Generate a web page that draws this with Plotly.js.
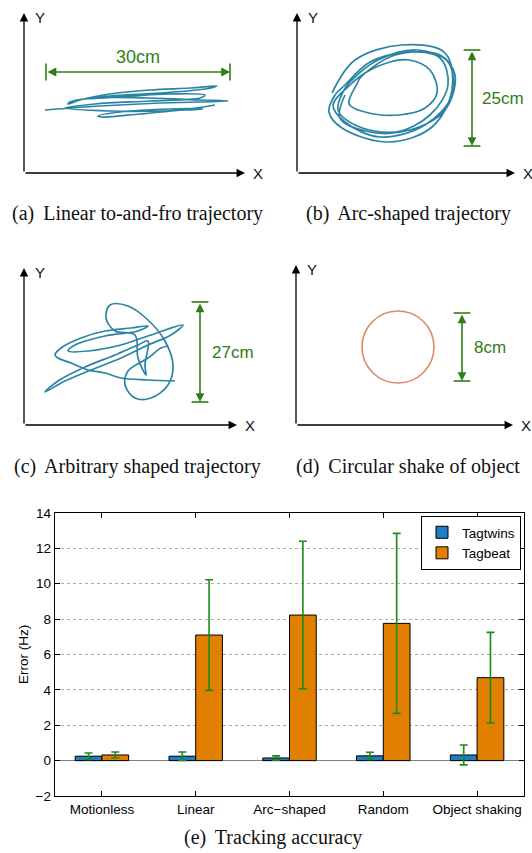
<!DOCTYPE html>
<html>
<head>
<meta charset="utf-8">
<script src="https://cdn.plot.ly/plotly-3.0.1.min.js"></script>
<style>html,body{margin:0;padding:0;background:#fff;}#chart{width:532px;height:853px;}</style>
</head>
<body>
<div id="chart"></div>
<script>
// ---------- Bar chart data (e) ----------
const categories = ['Motionless', 'Linear', 'Arc\u2212shaped', 'Random', 'Object shaking'];
const tagtwins = [0.25, 0.25, 0.15, 0.27, 0.32];
const tagtwinsErr = [0.18, 0.24, 0.12, 0.20, 0.56];
const tagbeat = [0.32, 7.10, 8.23, 7.76, 4.69];
const tagbeatErr = [0.17, 3.13, 4.17, 5.09, 2.56];
const yTicks = [-2, 0, 2, 4, 6, 8, 10, 12, 14];

// ---------- Sketch trajectories (local units, origin at axis corner) ----------
const trajA_x = [21,76,136,204,176,126,71,46,44,56,86,126,166,193,181,136,86,61,96,146,181,176,126,71,41,86,136,179,146,96,74,78,116,166,191];
const trajA_y = [63,67,70,72,73,75,75,71,69,73,79,83,85,87,84,80,77,74,76,79,78,75,72,69,65,62,62,64,64,61,57,56,59,64,68];
const trajB_x = [35,58,105,148,155,135,92,45,32,38, 48,73,113,143,151,133,98,58,41,46, 53,81,121,151,155,128,83,48,36,53, 68,93,112,133,140,128,102,68,52,61, 63,98,143,158,148,113,73,43,48];
const trajB_y = [80,113,128,120,83,46,31,45,61,78, 88,111,121,115,88,58,41,48,63,81, 91,113,123,111,78,48,36,51,68,88, 100,111,113,103,80,65,58,61,69,91, 95,118,118,98,63,43,41,55,78];
const trajC_x = [151,124,97,81,64,47,34,31,37,57,81,107,124,114,81,51,44,64,97,124,159,147,124,97,67,41,21,34,61,91,114,124,121,122,114,111,91,82,86,104,124,141,149,144,127,111,101,104,124,137,144];
const trajC_y = [44,45,47,52,55,62,67,70,77,87,94,97,99,94,89,80,74,74,80,89,100,90,80,67,55,44,33,44,58,70,80,84,60,50,67,90,94,107,120,119,105,84,60,40,27,27,40,54,67,77,79];
const circleCenter = [102, 78];
const circleRadius = [36];

// dimension markers: [x0, y0, x1, y1] in local units, and labels
const dimA = [22, 101, 206, 101];
const dimB = [175, 123, 175, 27];
const dimC = [176, 123, 176, 23];
const dimD = [166, 112, 166, 44];
const dimLabels = ['30cm', '25cm', '27cm', '8cm'];
const captions = ['(a)\u2009 Linear to-and-fro trajectory', '(b)\u2009 Arc-shaped trajectory',
                  '(c)\u2009 Arbitrary shaped trajectory', '(d)\u2009 Circular shake of object',
                  '(e)\u2009 Tracking accuracy'];

// ---------- layout helpers ----------
const W = 532, H = 853;
const dxp = (a, b) => [a / W, b / W];
const dyp = (top, bottom) => [1 - bottom / H, 1 - top / H];

const GREEN = '#2f7d14';
const TEAL = '#2b84a4';
const SANS = 'Liberation Sans, Arial, sans-serif';
const SERIF = 'Liberation Serif, Times New Roman, serif';

// panels: axis index, pixel box [left, top, right, bottom]
const panels = [
  {i: 2, box: [24, 13, 245, 173]},
  {i: 3, box: [297, 13, 515, 173]},
  {i: 4, box: [24, 268, 237, 425]},
  {i: 5, box: [296, 265, 513, 425]}
];

const traces = [];
traces.push({
  type: 'bar', name: 'Tagtwins', x: categories, y: tagtwins,
  marker: {color: '#1b7fc3', line: {color: '#000', width: 1}},
  error_y: {type: 'data', array: tagtwinsErr, visible: true, color: '#1a8a1a', thickness: 1.6, width: 4},
  xaxis: 'x', yaxis: 'y', hoverinfo: 'skip'
});
traces.push({
  type: 'bar', name: 'Tagbeat', x: categories, y: tagbeat,
  marker: {color: '#e07f00', line: {color: '#000', width: 1}},
  error_y: {type: 'data', array: tagbeatErr, visible: true, color: '#1a8a1a', thickness: 1.6, width: 4},
  xaxis: 'x', yaxis: 'y', hoverinfo: 'skip'
});

const trajs = [[trajA_x, trajA_y], [trajB_x, trajB_y], [trajC_x, trajC_y]];
trajs.forEach((t, k) => {
  traces.push({
    type: 'scatter', mode: 'lines', x: t[0], y: t[1],
    line: {color: TEAL, width: 1.7, shape: 'spline', smoothing: 1},
    xaxis: 'x' + panels[k].i, yaxis: 'y' + panels[k].i, showlegend: false, hoverinfo: 'skip'
  });
});

const dims = [dimA, dimB, dimC, dimD];
dims.forEach((d, k) => {
  const horiz = d[1] === d[3];
  traces.push({
    type: 'scatter', mode: 'markers', x: [d[0], d[2]], y: [d[1], d[3]],
    marker: {symbol: horiz ? 'line-ns-open' : 'line-ew-open', size: 12, color: GREEN, line: {color: GREEN, width: 1.6}},
    xaxis: 'x' + panels[k].i, yaxis: 'y' + panels[k].i, showlegend: false, hoverinfo: 'skip', cliponaxis: false
  });
});

const layout = {
  width: W, height: H,
  margin: {l: 0, r: 0, t: 0, b: 0},
  paper_bgcolor: '#fff', plot_bgcolor: '#fff',
  showlegend: true,
  barmode: 'group', bargap: 0.43, bargroupgap: 0,
  font: {family: SANS, color: '#000', size: 13},
  xaxis: {
    domain: dxp(55, 524), anchor: 'y', type: 'category',
    showline: true, linecolor: '#000', linewidth: 1.3, mirror: 'ticks',
    ticks: 'inside', ticklen: 5, tickcolor: '#000', tickwidth: 1,
    showgrid: false, zeroline: false, tickfont: {size: 13.5, family: SANS, color: '#000'}
  },
  yaxis: {
    domain: dyp(513, 796), anchor: 'x', range: [-2, 14],
    tickvals: yTicks, tickmode: 'array',
    showline: true, linecolor: '#000', linewidth: 1.3, mirror: 'ticks',
    ticks: 'inside', ticklen: 5, tickcolor: '#000', tickwidth: 1,
    showgrid: true, gridcolor: '#ababab', gridwidth: 1, griddash: 'dot',
    zeroline: true, zerolinecolor: '#808080', zerolinewidth: 1,
    tickfont: {size: 13.5, family: SANS, color: '#000'},
    title: {text: 'Error (Hz)', font: {size: 13.5, family: SANS, color: '#000'}, standoff: 4}
  },
  legend: {
    x: 521 / W, xanchor: 'right', y: 1 - 516 / H, yanchor: 'top',
    bordercolor: '#000', borderwidth: 1, bgcolor: '#fff',
    font: {size: 13.5, family: SANS, color: '#000'},
    tracegroupgap: 0, itemwidth: 30
  },
  annotations: [],
  shapes: []
};

panels.forEach((p, k) => {
  const [l, t, r, b] = p.box;
  const w = r - l, h = b - t;
  layout['xaxis' + p.i] = {domain: dxp(l, r), range: [0, w], visible: false, anchor: 'y' + p.i, fixedrange: true};
  layout['yaxis' + p.i] = {domain: dyp(t, b), range: [0, h], visible: false, anchor: 'x' + p.i, fixedrange: true};
  const xr = 'x' + p.i, yr = 'y' + p.i;
  // axis arrows
  layout.annotations.push({xref: xr, yref: yr, axref: xr, ayref: yr, x: w, y: 0, ax: 0, ay: 0, text: '',
    showarrow: true, arrowhead: 2, arrowsize: 1.3, arrowwidth: 1.3, arrowcolor: '#000', standoff: 0});
  layout.annotations.push({xref: xr, yref: yr, axref: xr, ayref: yr, x: 0, y: h, ax: 0, ay: 0, text: '',
    showarrow: true, arrowhead: 2, arrowsize: 1.3, arrowwidth: 1.3, arrowcolor: '#000', standoff: 0});
  layout.annotations.push({xref: xr, yref: yr, x: w, y: 0, xshift: 6, text: 'X', showarrow: false, xanchor: 'left', yanchor: 'middle',
    font: {size: 15, family: SANS, color: '#111'}});
  layout.annotations.push({xref: xr, yref: yr, x: 9, y: h - 4, text: 'Y', showarrow: false, xanchor: 'left', yanchor: 'middle',
    font: {size: 15, family: SANS, color: '#111'}});
  // dimension arrow
  const d = dims[k];
  layout.annotations.push({xref: xr, yref: yr, axref: xr, ayref: yr, x: d[2], y: d[3], ax: d[0], ay: d[1], text: '',
    showarrow: true, arrowhead: 2, startarrowhead: 2, arrowside: 'end+start', arrowsize: 1.1, startarrowsize: 1.1,
    arrowwidth: 1.6, arrowcolor: GREEN, standoff: 0, startstandoff: 0});
});

// dimension labels
layout.annotations.push({xref: 'x2', yref: 'y2', x: (dimA[0] + dimA[2]) / 2, y: dimA[1] + 15, text: dimLabels[0], showarrow: false,
  font: {size: 18, family: SANS, color: GREEN}, xanchor: 'center', yanchor: 'middle'});
layout.annotations.push({xref: 'x3', yref: 'y3', x: dimB[0] + 8, y: (dimB[1] + dimB[3]) / 2, text: dimLabels[1], showarrow: false,
  font: {size: 17, family: SANS, color: GREEN}, xanchor: 'left', yanchor: 'middle'});
layout.annotations.push({xref: 'x4', yref: 'y4', x: dimC[0] + 10, y: (dimC[1] + dimC[3]) / 2, text: dimLabels[2], showarrow: false,
  font: {size: 17, family: SANS, color: GREEN}, xanchor: 'left', yanchor: 'middle'});
layout.annotations.push({xref: 'x5', yref: 'y5', x: dimD[0] + 10, y: (dimD[1] + dimD[3]) / 2, text: dimLabels[3], showarrow: false,
  font: {size: 17, family: SANS, color: GREEN}, xanchor: 'left', yanchor: 'middle'});

// circle for (d)
layout.shapes.push({type: 'circle', xref: 'x5', yref: 'y5',
  x0: circleCenter[0] - circleRadius[0], x1: circleCenter[0] + circleRadius[0],
  y0: circleCenter[1] - circleRadius[0], y1: circleCenter[1] + circleRadius[0],
  line: {color: '#d98a66', width: 1.6}});

// captions
const capPos = [[137, 213], [408, 213], [137, 467], [408, 467], [273, 837]];
captions.forEach((c, k) => {
  layout.annotations.push({xref: 'paper', yref: 'paper', x: capPos[k][0] / W, y: 1 - capPos[k][1] / H,
    text: c, showarrow: false, xanchor: 'center', yanchor: 'middle',
    font: {size: 20, family: SERIF, color: '#111'}});
});

Plotly.newPlot('chart', traces, layout, {staticPlot: true, displayModeBar: false});
</script>
</body>
</html>
